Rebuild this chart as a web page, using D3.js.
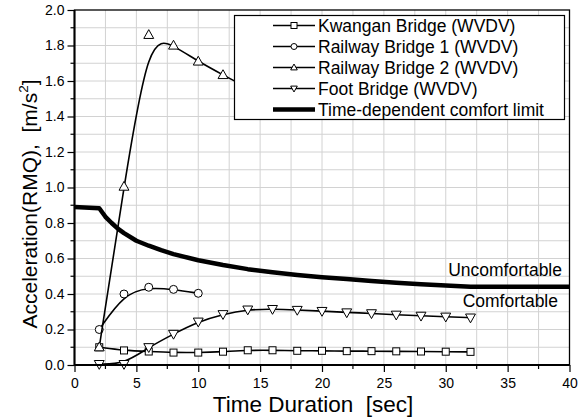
<!DOCTYPE html>
<html>
<head>
<meta charset="utf-8">
<script src="https://cdn.jsdelivr.net/npm/d3@7"></script>
<style>
  html, body { margin: 0; padding: 0; background: #fff; }
  svg { display: block; font-family: Arial, "Liberation Sans", sans-serif; }
  text { white-space: pre; }
</style>
</head>
<body>
<svg id="chart" width="583" height="420"></svg>
<script>
// Measured RMS acceleration per bridge, sampled every 2 s of walking time
const kwanganTime = [2, 4, 6, 8, 10, 12, 14, 16, 18, 20, 22, 24, 26, 28, 30, 32];
const kwanganAcc  = [0.100, 0.082, 0.076, 0.070, 0.070, 0.075, 0.083, 0.083, 0.080, 0.080, 0.078, 0.078, 0.077, 0.076, 0.075, 0.074];

const rail1Time = [2, 4, 6, 8, 10];
const rail1Acc  = [0.200, 0.400, 0.438, 0.426, 0.404];

const rail2Time = [2, 4, 6, 8, 10, 12, 14, 16];
const rail2Acc  = [0.100, 1.005, 1.860, 1.800, 1.710, 1.634, 1.560, 1.500];

const footTime = [2, 4, 6, 8, 10, 12, 14, 16, 18, 20, 22, 24, 26, 28, 30, 32];
const footAcc  = [0.005, 0.005, 0.100, 0.175, 0.244, 0.286, 0.312, 0.315, 0.310, 0.304, 0.296, 0.291, 0.283, 0.277, 0.272, 0.267];

// Time-dependent comfort limit
const limitTime = [0, 2, 2.5, 3, 3.5, 4, 5, 6, 7, 8, 10, 12, 14, 16, 18, 20, 22, 24, 26, 28, 30, 32, 40];
const limitAcc  = [0.890, 0.883, 0.835, 0.800, 0.768, 0.743, 0.700, 0.672, 0.647, 0.625, 0.590, 0.563, 0.540, 0.522, 0.507, 0.494, 0.484, 0.473, 0.463, 0.455, 0.448, 0.441, 0.441];

const seriesNames = ["Kwangan Bridge (WVDV)", "Railway Bridge 1 (WVDV)", "Railway Bridge 2 (WVDV)", "Foot Bridge (WVDV)", "Time-dependent comfort limit"];
const xTicks = [0, 5, 10, 15, 20, 25, 30, 35, 40];
const yTicks = [0.0, 0.2, 0.4, 0.6, 0.8, 1.0, 1.2, 1.4, 1.6, 1.8, 2.0];
const xTitle = "Time Duration  [sec]";
const zoneLabels = ["Uncomfortable", "Comfortable"];

const svg = d3.select("#chart");
const plot = { left: 74.5, right: 569.5, top: 10, bottom: 365 };

const x = d3.scaleLinear().domain([0, 40]).range([plot.left, plot.right]);
const y = d3.scaleLinear().domain([0, 2]).range([plot.bottom, plot.top]);

const zip = (xs, ys) => xs.map((v, i) => [v, ys[i]]);

// grid
const grid = svg.append("g").attr("stroke", "#d2d2d2").attr("stroke-width", 1);
d3.range(2.5, 40, 2.5).forEach(v => {
  grid.append("line").attr("x1", x(v)).attr("x2", x(v)).attr("y1", plot.top).attr("y2", plot.bottom);
});
d3.range(1, 20).forEach(k => {
  const v = k / 10;
  grid.append("line").attr("x1", plot.left).attr("x2", plot.right).attr("y1", y(v)).attr("y2", y(v));
});

// comfort limit
const linear = d3.line().x(d => x(d[0])).y(d => y(d[1]));
svg.append("path")
  .datum(zip(limitTime, limitAcc))
  .attr("d", linear)
  .attr("fill", "none").attr("stroke", "#000").attr("stroke-width", 4.5)
  .attr("stroke-linejoin", "round");

// measured series drawn as B-splines through the samples
const spline = d3.line().x(d => x(d[0])).y(d => y(d[1])).curve(d3.curveBasis);

const symbols = {
  square: (g, cx, cy, s) => g.append("rect").attr("x", cx - s / 2).attr("y", cy - s / 2).attr("width", s).attr("height", s),
  circle: (g, cx, cy, s) => g.append("circle").attr("cx", cx).attr("cy", cy).attr("r", s / 2),
  up: (g, cx, cy, s) => g.append("path").attr("d", `M${cx},${cy - s * 0.58}L${cx + s * 0.55},${cy + s * 0.4}L${cx - s * 0.55},${cy + s * 0.4}Z`),
  down: (g, cx, cy, s) => g.append("path").attr("d", `M${cx},${cy + s * 0.58}L${cx + s * 0.55},${cy - s * 0.4}L${cx - s * 0.55},${cy - s * 0.4}Z`)
};

const series = [
  { t: kwanganTime, a: kwanganAcc, sym: "square", size: 7 },
  { t: rail1Time, a: rail1Acc, sym: "circle", size: 8 },
  { t: rail2Time, a: rail2Acc, sym: "up", size: 9 },
  { t: footTime, a: footAcc, sym: "down", size: 9 }
];

series.forEach(s => {
  const pts = zip(s.t, s.a);
  svg.append("path").datum(pts).attr("d", spline)
    .attr("fill", "none").attr("stroke", "#000").attr("stroke-width", 1.6);
  const g = svg.append("g").attr("fill", "#fff").attr("stroke", "#000").attr("stroke-width", 1);
  pts.forEach(p => symbols[s.sym](g, x(p[0]), y(p[1]), s.size));
});

// zone labels
svg.append("text").attr("x", 562).attr("y", 276).attr("text-anchor", "end")
  .attr("font-size", 17.5).text(zoneLabels[0]);
svg.append("text").attr("x", 558).attr("y", 307).attr("text-anchor", "end")
  .attr("font-size", 17.5).text(zoneLabels[1]);

// legend
const lg = svg.append("g");
lg.append("rect").attr("x", 234.5).attr("y", 15.5).attr("width", 330).attr("height", 104)
  .attr("fill", "#fff").attr("stroke", "#000").attr("stroke-width", 1.2);
const legendSyms = ["square", "circle", "up", "down", null];
seriesNames.forEach((name, i) => {
  const cy = 25.5 + i * 21;
  lg.append("line").attr("x1", 273).attr("x2", 315).attr("y1", cy).attr("y2", cy)
    .attr("stroke", "#000").attr("stroke-width", legendSyms[i] ? 1.6 : 4.5);
  if (legendSyms[i]) {
    const g = lg.append("g").attr("fill", "#fff").attr("stroke", "#000").attr("stroke-width", 1);
    symbols[legendSyms[i]](g, 294, cy, 6);
  }
  lg.append("text").attr("x", 318).attr("y", cy).attr("dy", "0.36em")
    .attr("font-size", 17.5).text(name);
});

// axes
const xAxis = d3.axisBottom(x).tickValues(xTicks).tickSize(7).tickFormat(d3.format("d"));
const yAxis = d3.axisLeft(y).tickValues(yTicks).tickSize(7).tickFormat(d3.format(".1f"));

const gx = svg.append("g").attr("transform", `translate(0,${plot.bottom})`).call(xAxis);
const gy = svg.append("g").attr("transform", `translate(${plot.left},0)`).call(yAxis);
[gx, gy].forEach(g => {
  g.select(".domain").remove();
  g.selectAll(".tick line").attr("stroke", "#000").attr("stroke-width", 1.2);
  g.selectAll(".tick text").attr("font-size", 14).attr("fill", "#000").attr("font-family", null);
});
gx.selectAll(".tick text").attr("dy", "0.9em");
gy.selectAll(".tick text").attr("x", -10);

// minor ticks
const minor = svg.append("g").attr("stroke", "#000").attr("stroke-width", 1.2);
d3.range(2.5, 40, 5).forEach(v => {
  minor.append("line").attr("x1", x(v)).attr("x2", x(v)).attr("y1", plot.bottom).attr("y2", plot.bottom + 4);
});
d3.range(0.1, 2, 0.2).forEach(v => {
  minor.append("line").attr("x1", plot.left).attr("x2", plot.left - 4).attr("y1", y(v)).attr("y2", y(v));
});

// frame
svg.append("rect").attr("x", plot.left).attr("y", plot.top)
  .attr("width", plot.right - plot.left).attr("height", plot.bottom - plot.top)
  .attr("fill", "none").attr("stroke", "#000").attr("stroke-width", 1.3);
svg.append("line").attr("x1", plot.left).attr("x2", plot.right).attr("y1", plot.bottom).attr("y2", plot.bottom)
  .attr("stroke", "#000").attr("stroke-width", 2);
svg.append("line").attr("x1", plot.left).attr("x2", plot.left).attr("y1", plot.top).attr("y2", plot.bottom)
  .attr("stroke", "#000").attr("stroke-width", 2);

// axis titles
svg.append("text").attr("x", 313).attr("y", 412)
  .attr("text-anchor", "middle").attr("font-size", 22.5).text(xTitle);

const yt = svg.append("text").attr("transform", "translate(37,204) rotate(-90)")
  .attr("text-anchor", "middle").attr("font-size", 21);
yt.append("tspan").text("Acceleration(RMQ),  [m/s");
yt.append("tspan").attr("dy", -9).attr("font-size", 13.5).text("2");
yt.append("tspan").attr("dy", 9).text("]");
</script>
</body>
</html>
